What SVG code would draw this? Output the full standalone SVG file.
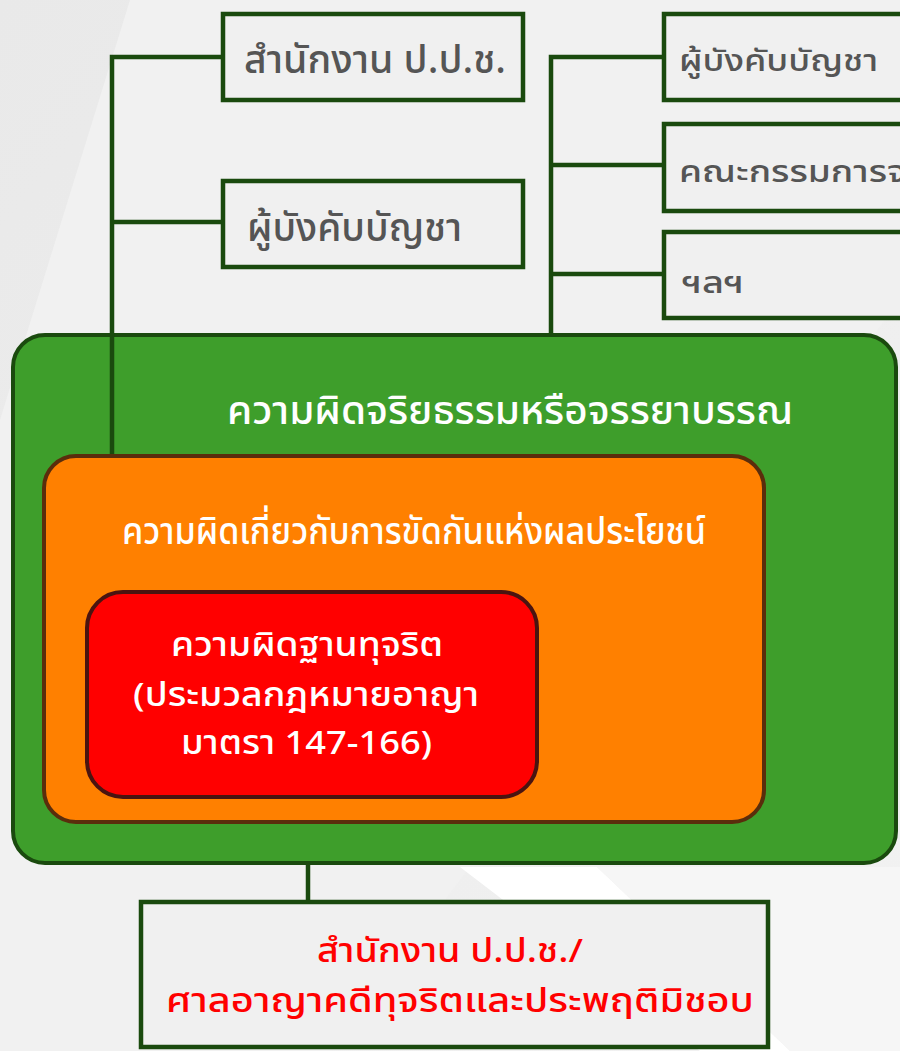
<svg xmlns="http://www.w3.org/2000/svg" width="900" height="1051" viewBox="0 0 900 1051">
<defs>
<linearGradient id="bg" x1="0" y1="0" x2="1" y2="1">
<stop offset="0" stop-color="#e9e9e9"/>
<stop offset="1" stop-color="#f2f2f2"/>
</linearGradient>
<style>
.t{font-family:"Noto Sans Thai","Noto Sans","DejaVu Sans",sans-serif;font-weight:500;}
.box{fill:#f0f0f0;stroke:#1a4a0e;stroke-width:4.5;}
.con{fill:none;stroke:#1a4a0e;stroke-width:4.5;}
.gray{fill:#555555;}
.white{fill:#ffffff;}
.red{fill:#ff0000;}
</style>
</defs>
<rect width="900" height="1051" fill="url(#bg)"/>
<polygon points="130,0 900,0 900,300 330,1051 0,1051 0,420" fill="#f1f1f1"/>
<polygon points="460,867 597,867 790,1051 700,1051" fill="#ffffff"/>
<polygon points="597,867 900,867 900,1051 790,1051" fill="#f6f6f6"/>
<g id="n-office">
<rect class="box" x="223" y="14" width="300" height="86"/>
<text class="t gray" x="244" y="73" font-size="39" textLength="262" lengthAdjust="spacingAndGlyphs">สำนักงาน ป.ป.ช.</text>
</g>
<g id="n-boss-left">
<rect class="box" x="223" y="181" width="300" height="86"/>
<text class="t gray" x="247" y="241" font-size="39" textLength="215" lengthAdjust="spacingAndGlyphs">ผู้บังคับบัญชา</text>
</g>
<g id="n-boss-right">
<rect class="box" x="664" y="14" width="260" height="86"/>
<text class="t gray" x="679" y="71" font-size="31" textLength="199" lengthAdjust="spacingAndGlyphs">ผู้บังคับบัญชา</text>
</g>
<g id="n-committee">
<rect class="box" x="664" y="124" width="260" height="87"/>
<text class="t gray" x="679" y="182" font-size="31" textLength="228" lengthAdjust="spacingAndGlyphs">คณะกรรมการจ</text>
</g>
<g id="n-etc">
<rect class="box" x="664" y="232" width="260" height="86"/>
<text class="t gray" x="682" y="293" font-size="31" textLength="62" lengthAdjust="spacingAndGlyphs">ฯลฯ</text>
</g>
<g id="n-ethics">
<rect x="13" y="335" width="883" height="528" rx="32" fill="#3e9e2b" stroke="#1a4a0e" stroke-width="4"/>
<text class="t white" x="227" y="424" font-size="40" textLength="566" lengthAdjust="spacingAndGlyphs">ความผิดจริยธรรมหรือจรรยาบรรณ</text>
</g>
<g id="connectors">
<path class="con" d="M112,455 V57 H223 M112,222 H223"/>
<path class="con" d="M551,333 V57 H664 M551,165 H664 M551,274 H664"/>
<path class="con" d="M308,864 V902"/>
</g>
<g id="n-conflict">
<rect x="44" y="456" width="720" height="366" rx="32" fill="#ff8000" stroke="#5a2d0c" stroke-width="4"/>
<text class="t white" x="122" y="544" font-size="38" textLength="584" lengthAdjust="spacingAndGlyphs">ความผิดเกี่ยวกับการขัดกันแห่งผลประโยชน์</text>
</g>
<g id="n-corruption">
<rect x="87" y="592" width="450" height="205" rx="36" fill="#ff0000" stroke="#4a1410" stroke-width="4"/>
<text class="t white" x="171" y="656" font-size="33" textLength="272" lengthAdjust="spacingAndGlyphs">ความผิดฐานทุจริต</text>
<text class="t white" x="133" y="706" font-size="33" textLength="346" lengthAdjust="spacingAndGlyphs">(ประมวลกฎหมายอาญา</text>
<text class="t white" x="181" y="754" font-size="33" textLength="251" lengthAdjust="spacingAndGlyphs">มาตรา 147-166)</text>
</g>
<g id="n-court">
<rect class="box" x="141" y="902" width="627" height="145"/>
<text class="t red" x="317" y="962" font-size="33" textLength="266" lengthAdjust="spacingAndGlyphs">สำนักงาน ป.ป.ช./</text>
<text class="t red" x="166" y="1012" font-size="33" textLength="588" lengthAdjust="spacingAndGlyphs">ศาลอาญาคดีทุจริตและประพฤติมิชอบ</text>
</g>
</svg>
